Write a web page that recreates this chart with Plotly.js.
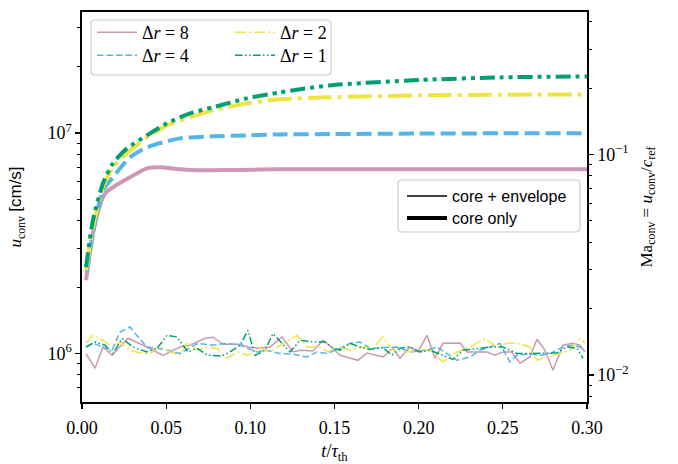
<!DOCTYPE html>
<html><head><meta charset="utf-8">
<script src="https://cdn.plot.ly/plotly-3.0.1.min.js"></script>
<style>html,body{margin:0;padding:0;background:#fff}#chart{width:678px;height:464px}</style>
</head><body><div id="chart"></div>
<script>
// reference sound speed (cm/s) linking the two y axes: Ma = u / cRef
const cRef = 8.0e7;

// ---- core only (thick) ----
const tCore8 = [0.0024,0.0077,0.0137,0.0184,0.0285,0.0386,0.0463,0.0582,0.0683,0.0900,0.1176,0.15,0.20,0.25,0.30];
const uCore8 = [2.15e6,3.90e6,5.33e6,5.68e6,6.30e6,6.92e6,7.00e6,6.85e6,6.78e6,6.80e6,6.85e6,6.85e6,6.85e6,6.85e6,6.85e6];
const tCore4 = [0.0028,0.0065,0.0125,0.0184,0.0285,0.0386,0.0481,0.0582,0.0778,0.098,0.1176,0.15,0.20,0.25,0.30];
const uCore4 = [2.34e6,3.51e6,5.50e6,6.30e6,7.76e6,8.61e6,9.08e6,9.46e6,9.66e6,9.76e6,9.86e6,9.90e6,9.95e6,9.97e6,9.97e6];
const tCore2 = [0.0024,0.0065,0.0125,0.0184,0.0267,0.0386,0.0505,0.0642,0.0778,0.098,0.1176,0.1473,0.2008,0.2483,0.30];
const uCore2 = [2.39e6,3.74e6,5.71e6,6.99e6,8.09e6,9.56e6,1.084e7,1.178e7,1.267e7,1.363e7,1.422e7,1.452e7,1.483e7,1.493e7,1.498e7];
const tCore1 = [0.0024,0.0065,0.0125,0.0184,0.0267,0.0386,0.0505,0.0642,0.0778,0.098,0.1176,0.1473,0.2008,0.2483,0.30];
const uCore1 = [2.46e6,4.02e6,5.92e6,7.29e6,8.52e6,9.76e6,1.107e7,1.228e7,1.308e7,1.437e7,1.529e7,1.645e7,1.740e7,1.788e7,1.807e7];

// ---- core + envelope (thin, noisy) ----
const tEnv8 = [0.0024,0.0077,0.0125,0.0178,0.0273,0.0386,0.0481,0.0582,0.0642,0.0731,0.0778,0.0838,0.0939,0.0986,0.1040,0.1117,0.1188,0.1253,0.1295,0.1372,0.1432,0.1491,0.1533,0.1574,0.1639,0.1693,0.1788,0.1847,0.1889,0.1948,0.1996,0.2049,0.2097,0.2144,0.2245,0.2287,0.2346,0.2406,0.2453,0.2501,0.2554,0.2602,0.2661,0.2703,0.2750,0.2798,0.2857,0.2917,0.2958,0.2988];
const uEnv8 = [1.0e6,0.858e6,1.071e6,0.982e6,1.173e6,1.071e6,0.982e6,1.071e6,1.091e6,1.173e6,1.186e6,1.102e6,1.102e6,1.071e6,1.057e6,1.071e6,1.190e6,1.017e6,1.035e6,1.028e6,1.149e6,1.057e6,0.982e6,0.965e6,0.932e6,1.006e6,0.965e6,1.057e6,0.952e6,1.071e6,1.017e6,1.21e6,0.952e6,1.113e6,1.117e6,1.017e6,1.017e6,1.017e6,0.982e6,1.017e6,1.017e6,0.904e6,0.965e6,1.161e6,1.035e6,0.840e6,1.091e6,1.113e6,1.091e6,1.017e6];
const tEnv4 = [0.0024,0.0065,0.0125,0.0178,0.0226,0.0285,0.0333,0.0386,0.0446,0.0511,0.0582,0.0642,0.0689,0.0778,0.0861,0.0939,0.0986,0.1040,0.1099,0.1176,0.1253,0.1336,0.1396,0.1455,0.1533,0.1592,0.1651,0.1711,0.1788,0.1871,0.1948,0.2049,0.2109,0.2168,0.2228,0.2305,0.2364,0.2424,0.2483,0.2542,0.2584,0.2661,0.2721,0.2780,0.2857,0.2917,0.2976];
const uEnv4 = [1.071e6,1.113e6,1.071e6,1.035e6,1.253e6,1.320e6,1.190e6,1.071e6,1.057e6,1.035e6,1.0e6,1.057e6,1.113e6,1.091e6,1.113e6,1.091e6,1.057e6,1.017e6,1.035e6,1.0e6,0.993e6,0.965e6,1.017e6,1.0e6,1.057e6,1.113e6,1.129e6,1.057e6,1.065e6,1.071e6,1.017e6,1.035e6,1.071e6,1.0e6,0.932e6,0.965e6,1.035e6,1.071e6,1.113e6,0.916e6,0.982e6,1.0e6,0.982e6,1.0e6,1.071e6,1.091e6,1.057e6];
const tEnv2 = [0.0024,0.0065,0.0125,0.0178,0.0226,0.0285,0.0345,0.0404,0.0463,0.0523,0.0582,0.0630,0.0683,0.0743,0.0802,0.0861,0.0921,0.0986,0.1057,0.1117,0.1194,0.1277,0.1336,0.1414,0.1461,0.1533,0.1592,0.1669,0.1729,0.1788,0.1847,0.1931,0.2008,0.2067,0.2144,0.2228,0.2305,0.2394,0.2465,0.2525,0.2584,0.2661,0.2703,0.2762,0.2839,0.2899,0.2958,0.2988];
const uEnv2 = [1.113e6,1.21e6,1.149e6,1.071e6,1.129e6,1.035e6,1.006e6,1.0e6,1.079e6,1.017e6,0.982e6,1.129e6,1.035e6,1.071e6,1.057e6,0.952e6,1.017e6,0.982e6,1.057e6,1.017e6,1.113e6,1.21e6,1.071e6,1.071e6,1.017e6,1.071e6,1.035e6,1.071e6,1.057e6,1.190e6,1.035e6,1.017e6,1.043e6,1.035e6,0.916e6,1.017e6,1.071e6,1.169e6,1.071e6,1.113e6,1.113e6,1.071e6,0.932e6,0.965e6,1.0e6,1.035e6,1.169e6,1.113e6];
const tEnv1 = [0.0024,0.0077,0.0137,0.0184,0.0238,0.0303,0.0386,0.0446,0.0505,0.0564,0.0630,0.0683,0.0748,0.0832,0.0879,0.0939,0.0986,0.1028,0.1087,0.1135,0.1188,0.1236,0.1295,0.1372,0.1443,0.1491,0.1533,0.1592,0.1651,0.1711,0.1788,0.1841,0.1889,0.1948,0.2008,0.2067,0.2144,0.2204,0.2263,0.2346,0.2424,0.2501,0.2584,0.2661,0.2738,0.2822,0.2881,0.2940,0.2976];
const uEnv1 = [1.071e6,1.129e6,1.091e6,1.0e6,1.169e6,1.071e6,1.017e6,1.057e6,1.21e6,1.190e6,1.017e6,1.057e6,0.982e6,0.975e6,1.017e6,1.091e6,1.275e6,0.982e6,1.035e6,1.232e6,1.113e6,1.017e6,1.149e6,1.129e6,1.129e6,1.057e6,1.035e6,1.113e6,1.071e6,1.043e6,1.065e6,0.982e6,1.057e6,1.071e6,1.017e6,1.035e6,0.982e6,0.940e6,1.035e6,1.057e6,1.071e6,1.071e6,1.0e6,1.0e6,1.0e6,1.006e6,1.071e6,1.057e6,0.952e6];

// ---- labels & ticks ----
const seriesNames = ['Δ<i>r</i> = 8','Δ<i>r</i> = 4','Δ<i>r</i> = 2','Δ<i>r</i> = 1'];
const styleNames = ['core + envelope','core only'];
const xTickVals = [0,0.05,0.10,0.15,0.20,0.25,0.30];
const yTickVals = [1e6,1e7];
const yTickText = ['10<sup>6</sup>','10<sup>7</sup>'];
const yMinorVals = [6e5,7e5,8e5,9e5,2e6,3e6,4e6,5e6,6e6,7e6,8e6,9e6,2e7,3e7];
const y2TickVals = [0.01,0.1];
const y2TickText = ['10<sup>−2</sup>','10<sup>−1</sup>'];
const y2MinorVals = [0.008,0.009,0.02,0.03,0.04,0.05,0.06,0.07,0.08,0.09,0.2,0.3,0.4];

const colors = ['rgb(205,152,180)','#56B4E9','#F0E442','#009E73'];
const thinDash = ['solid','6.5px,3px','11px,3px,2px,3px','7.5px,2.5px,1.5px,2.5px,1.5px,2.5px'];
const thickDash = ['solid','15px,6px','24px,6px,4px,6px','15px,5px,4px,5px,4px,5px'];

const envT = [tEnv8,tEnv4,tEnv2,tEnv1], envU = [uEnv8,uEnv4,uEnv2,uEnv1];
const coreT = [tCore8,tCore4,tCore2,tCore1], coreU = [uCore8,uCore4,uCore2,uCore1];
const legendIds = ['legend','legend2','legend3','legend4'];

const traces = [];
for (let i = 0; i < 4; i++) {
  traces.push({x: envT[i], y: envU[i], type:'scatter', mode:'lines', name: seriesNames[i],
    line:{color:colors[i], width:1.5, dash:thinDash[i]}, legend: legendIds[i], showlegend:true, hoverinfo:'skip'});
}
for (let i = 0; i < 4; i++) {
  traces.push({x: coreT[i], y: coreU[i], type:'scatter', mode:'lines', name: seriesNames[i],
    line:{color:colors[i], width:4, dash:thickDash[i], shape:'spline', smoothing:0.7}, showlegend:false, hoverinfo:'skip'});
}
// Mach-number axis (invisible copy of one series scaled by cRef)
traces.push({x: tCore1, y: uCore1.map(u => u / cRef), yaxis:'y2', type:'scatter', mode:'lines',
  line:{color:'rgba(0,0,0,0)', width:0}, showlegend:false, hoverinfo:'skip'});
// style legend entries
traces.push({x:[null], y:[null], type:'scatter', mode:'lines', name: styleNames[0], line:{color:'black', width:1.5}, legend:'legend5', showlegend:true});
traces.push({x:[null], y:[null], type:'scatter', mode:'lines', name: styleNames[1], line:{color:'black', width:4}, legend:'legend6', showlegend:true});

// pixel helpers for plot area
const L = 82, T = 12, W = 505, H = 390;
const px = v => (v - L) / W;
const py = v => (T + H - v) / H;
function roundBox(x0, y0, x1, y1, r) {
  const a = px(x0), b = px(x1), rx = r / W, ry = r / H;
  const top = py(y0), bot = py(y1);
  return `M${a+rx},${top} L${b-rx},${top} Q${b},${top} ${b},${top-ry} L${b},${bot+ry} Q${b},${bot} ${b-rx},${bot} L${a+rx},${bot} Q${a},${bot} ${a},${bot+ry} L${a},${top-ry} Q${a},${top} ${a+rx},${top} Z`;
}
const serif = 'Liberation Serif';
const sans = 'Liberation Sans';
function leg(xp, yp, fam, size) {
  return {x: px(xp), y: py(yp), xanchor:'left', yanchor:'top', bgcolor:'rgba(0,0,0,0)', borderwidth:0,
    font:{family:fam, size:size, color:'black'}, itemwidth:40};
}
const tickFont = {family:serif, size:18, color:'black'};

const layout = {
  width:678, height:464,
  margin:{l:L, r:678-L-W, t:T, b:464-T-H},
  paper_bgcolor:'white', plot_bgcolor:'white',
  font:{family:serif, size:18, color:'black'},
  xaxis:{range:[0,0.3], tickvals:xTickVals, tickformat:'.2f', ticks:'outside', ticklen:5, tickwidth:1.3, tickcolor:'black',
    tickfont:tickFont,
    showline:true, linewidth:1.6, linecolor:'black', mirror:true, showgrid:false, zeroline:false,
    ticklabelstandoff:4,
    title:{text:'<i>t</i>/<i>τ</i><sub>th</sub>', font:{family:serif, size:18}, standoff:8}},
  yaxis:{type:'log', range:[Math.log10(6.03e5), Math.log10(3.54e7)], tickvals:yTickVals, ticktext:yTickText,
    tickfont:tickFont,
    ticks:'outside', ticklen:5, tickwidth:1.3, tickcolor:'black', showline:true, linewidth:1.6, linecolor:'black',
    showgrid:false, zeroline:false,
    minor:{tickvals:yMinorVals, ticks:'outside', ticklen:3, tickwidth:1, tickcolor:'black', showgrid:false},
    title:{text:'<i>u</i><sub>conv</sub> <span style="font-family:Liberation Sans">[cm/s]</span>', font:{family:serif, size:17}, standoff:21}},
  yaxis2:{type:'log', overlaying:'y', side:'right', range:[Math.log10(6.03e5/cRef), Math.log10(3.54e7/cRef)],
    tickvals:y2TickVals, ticktext:y2TickText, ticks:'outside', ticklen:5, tickwidth:1.3, tickcolor:'black',
    tickfont:tickFont,
    showline:true, linewidth:1.6, linecolor:'black', showgrid:false, zeroline:false,
    minor:{tickvals:y2MinorVals, ticks:'outside', ticklen:3, tickwidth:1, tickcolor:'black', showgrid:false},
    title:{text:'Ma<sub>conv</sub> = <i>u</i><sub>conv</sub>/<i>c</i><sub>ref</sub>', font:{family:serif, size:17}, standoff:12}},
  legend: leg(92, 14, serif, 18),
  legend2: leg(92, 37, serif, 18),
  legend3: leg(230, 14, serif, 18),
  legend4: leg(230, 37, serif, 18),
  legend5: leg(402, 179, sans, 16),
  legend6: leg(402, 201, sans, 16),
  shapes:[
    {type:'path', xref:'paper', yref:'paper', path: roundBox(91,20,331,75,4), line:{color:'rgba(204,204,204,1)', width:1.2}, fillcolor:'rgba(255,255,255,0.8)', layer:'below'},
    {type:'path', xref:'paper', yref:'paper', path: roundBox(398,180,580,232,4), line:{color:'rgba(204,204,204,1)', width:1.2}, fillcolor:'rgba(255,255,255,0.8)', layer:'below'}
  ]
};

Plotly.newPlot('chart', traces, layout, {displayModeBar:false, staticPlot:true});
</script></body></html>
